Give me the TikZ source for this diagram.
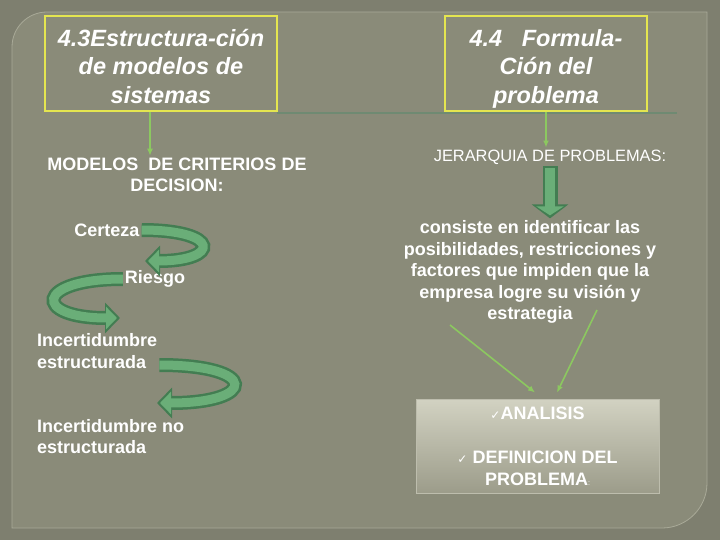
\documentclass[tikz,border=0pt]{standalone}
\usepackage{fontspec}
\setmainfont{Liberation Sans}
\newfontfamily\symfont{DejaVu Sans}
\usetikzlibrary{arrows.meta}

\definecolor{outerbg}{HTML}{7E7F6F}
\definecolor{panel}{HTML}{8A8B79}
\definecolor{frameline}{HTML}{A9AA98}
\definecolor{boxline}{HTML}{E4E550}
\definecolor{ruleline}{HTML}{6F8A72}
\definecolor{thingreen}{HTML}{8CC860}
\definecolor{arrowdark}{HTML}{437D52}
\definecolor{arrowlight}{HTML}{6AAE78}
\definecolor{restop}{HTML}{D2D2C2}
\definecolor{resbot}{HTML}{9C9C8A}
\definecolor{resline}{HTML}{BDBDAD}

\begin{document}
\begin{tikzpicture}[x=1pt, y=-1pt,
    titlebox/.style={draw=boxline, line width=1.5pt, minimum height=95pt},
    titletext/.style={align=center, text=white, anchor=north, inner sep=0pt,
        font=\bfseries\itshape\fontsize{23.5}{28.5}\selectfont},
    label/.style={text=white, font=\bfseries\fontsize{18}{21.5}\selectfont, inner sep=2pt},
    thinarrow/.style={draw=thingreen, line width=1.6pt, -{Latex[length=7pt,width=6pt]}},
    turnout/.style={draw=arrowdark, line width=14pt, -{Triangle[length=15pt,width=30pt]}},
    turnin/.style={draw=arrowlight, line width=9pt, shorten >=3pt, -{Triangle[length=11pt,width=22pt]}}]
                \useasboundingbox (0,0) rectangle (720,540);
                \fill[outerbg] (0,0) rectangle (720,540);
                \draw[frameline, fill=panel, line width=0.8pt] (12,528) -- (12,47) arc[start angle=180, end angle=270, radius=35]
                    -- (707,12) -- (707,483) arc[start angle=0, end angle=90, radius=45] -- cycle;
                \draw[ruleline, line width=2.5pt] (277,113) -- (677,113);
                % titulos
                \node[titlebox, minimum width=232pt] (box43) at (161,63.5) {};
                \node[titletext] (t43) at (161,29) {4.3Estructura-ción\\de modelos de\\sistemas};
                \node[titlebox, minimum width=202pt] (box44) at (546,63.5) {};
                \node[titletext] (t44) at (546,29) {4.4\ \ \ Formula-\\Ción del\\problema};
                % lado izquierdo
                \node[label, align=center] (modelos) at (177,175) {MODELOS\ \ DE CRITERIOS DE\\DECISION:};
                \node[label] (cert) at (107,230) {Certeza};
                \node[label] (riesgo) at (155,279) {Riesgo};
                \node[label, align=left, anchor=west] (incE) at (35,351) {Incertidumbre\\estructurada};
                \node[label, align=left, anchor=west] (incN) at (35,436.5) {Incertidumbre no\\estructurada};
                % lado derecho
                \node[text=white, font=\fontsize{16.4}{20}\selectfont, inner sep=2pt] (jer) at (550,157) {JERARQUIA DE PROBLEMAS:};
                \node[label, align=center] (cons) at (530,272) {consiste en identificar las\\posibilidades, restricciones y\\factores que impiden que la\\empresa logre su visión y\\estrategia};
                \node[draw=resline, line width=1pt, top color=restop, bottom color=resbot,
                    minimum width=243pt, minimum height=94pt, text=white, align=center,
                    font=\bfseries\fontsize{18}{22}\selectfont] (resbox) at (537.5,446)
                    {{\symfont\mdseries\fontsize{12}{12}\selectfont ✓}ANALISIS\\[22pt]
                     {\symfont\mdseries\fontsize{12}{12}\selectfont ✓} DEFINICION DEL\\PROBLEMA{\mdseries\fontsize{7}{7}\selectfont :}};
                \coordinate (fromL) at (450,325);
                \coordinate (fromR) at (597,310);
                % conectores
                \draw[thinarrow] ([xshift=-11pt]box43.south) -- ([xshift=-27pt]modelos.north);
                \draw[thinarrow] (box44.south) -- (box44.south |- jer.north);
                \draw[draw=arrowdark, line width=15pt, -{Triangle[length=14pt,width=36pt]}] (jer.south) -- (jer.south |- cons.north);
                \draw[draw=arrowlight, line width=10pt, shorten >=3pt, -{Triangle[length=9pt,width=27pt]}] ([yshift=-1.5pt]jer.south) -- (jer.south |- cons.north);
                \draw[thinarrow] (fromL) -- ([xshift=-2.5pt,yshift=6pt]resbox.north);
                \draw[thinarrow] (fromR) -- ([xshift=19.5pt,yshift=6pt]resbox.north);
                % flechas curvas
                \draw[turnout] (cert.east) .. controls +(80,0) and +(75,0) .. (145,261);
                \draw[turnin] (cert.east) .. controls +(80,0) and +(75,0) .. (145,261);
                \draw[turnout] (riesgo.west) .. controls +(-88,0) and +(-88,0) .. (120,318);
                \draw[turnin] (riesgo.west) .. controls +(-88,0) and +(-88,0) .. (120,318);
                \draw[turnout] ([yshift=-14pt]incE.east) .. controls +(100,0) and +(100,0) .. (157,403);
                \draw[turnin] ([yshift=-14pt]incE.east) .. controls +(100,0) and +(100,0) .. (157,403);
            \end{tikzpicture}
\end{document}
